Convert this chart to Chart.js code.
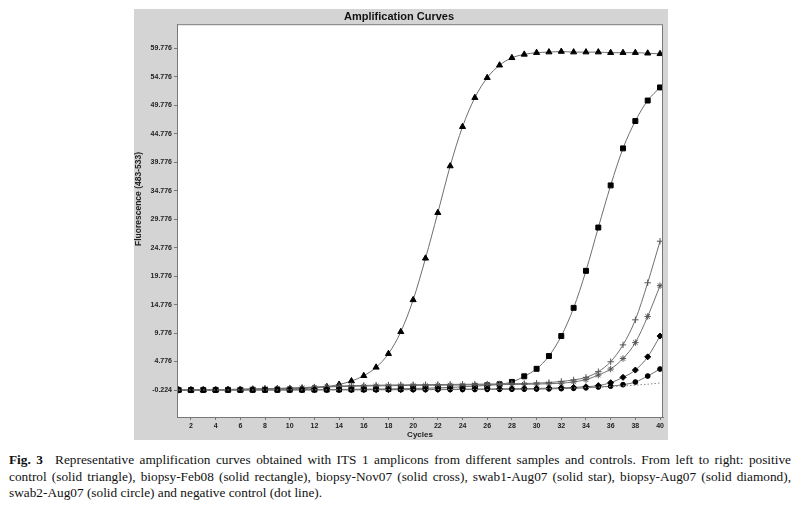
<!DOCTYPE html>
<html>
<head>
<meta charset="utf-8">
<script src="https://cdn.jsdelivr.net/npm/chart.js@4"></script>
<style>
  html, body { margin: 0; padding: 0; background: #ffffff; }
  #page { position: relative; width: 800px; height: 505px; overflow: hidden; background: #fff; }
  #panel { position: absolute; left: 134px; top: 9px; width: 534px; height: 431px; background: #d4d4d4; }
  #caption { position: absolute; left: 9px; top: 452px; width: 782px; font-family: "Liberation Serif", "DejaVu Serif", serif;
             font-size: 13.3px; line-height: 16.5px; color: #111; }
  #caption .j { text-align: justify; text-align-last: justify; white-space: nowrap; }
  #caption .l { text-align: left; white-space: nowrap; }
  #caption b { font-weight: bold; }
</style>
</head>
<body>
<div id="page">
  <div id="panel"><canvas id="c" width="534" height="431"></canvas></div>
  <div id="caption">
    <div class="j"><b>Fig. 3</b>&ensp; Representative amplification curves obtained with ITS 1 amplicons from different samples and controls. From left to right: positive</div>
    <div class="j">control (solid triangle), biopsy-Feb08 (solid rectangle), biopsy-Nov07 (solid cross), swab1-Aug07 (solid star), biopsy-Aug07 (solid diamond),</div>
    <div class="l">swab2-Aug07 (solid circle) and negative control (dot line).</div>
  </div>
</div>
<script>
// ---- data ----
const cycles = [1,2,3,4,5,6,7,8,9,10,11,12,13,14,15,16,17,18,19,20,21,22,23,24,25,26,27,28,29,30,31,32,33,34,35,36,37,38,39,40];

const positiveControl = [-0.22,-0.21,-0.19,-0.17,-0.15,-0.13,-0.11,-0.08,-0.05,-0.02,0.03,0.12,0.36,0.75,1.36,2.28,3.76,6.15,10.0,15.6,22.9,30.9,39.1,46.0,51.1,54.6,56.8,58.1,58.7,59.0,59.1,59.2,59.1,59.1,59.1,59.0,59.0,59.0,58.9,58.8];
const biopsyFeb08 = [-0.22,-0.22,-0.21,-0.21,-0.2,-0.2,-0.19,-0.19,-0.18,-0.17,-0.16,-0.15,-0.14,-0.12,-0.1,-0.08,-0.06,-0.03,0.0,0.05,0.1,0.16,0.24,0.33,0.45,0.6,0.78,1.2,2.18,3.5,5.74,9.25,14.2,20.7,28.3,35.7,42.2,47.0,50.6,52.9];
const biopsyNov07 = [-0.22,-0.2,-0.18,-0.15,-0.12,-0.08,-0.04,0.0,0.05,0.12,0.2,0.3,0.4,0.48,0.54,0.58,0.62,0.65,0.68,0.7,0.72,0.74,0.76,0.78,0.8,0.82,0.85,0.88,0.92,0.98,1.08,1.28,1.55,2.0,3.0,4.74,7.7,12.1,18.6,25.9];
const swab1Aug07 = [-0.22,-0.21,-0.19,-0.17,-0.14,-0.1,-0.06,-0.02,0.03,0.09,0.16,0.24,0.32,0.38,0.43,0.47,0.5,0.53,0.56,0.58,0.6,0.62,0.64,0.66,0.68,0.7,0.72,0.75,0.78,0.82,0.88,0.98,1.2,1.6,2.4,3.46,5.3,8.1,12.7,18.1];
const biopsyAug07 = [-0.22,-0.22,-0.21,-0.21,-0.2,-0.2,-0.19,-0.19,-0.18,-0.18,-0.17,-0.17,-0.16,-0.15,-0.15,-0.14,-0.13,-0.12,-0.12,-0.11,-0.1,-0.09,-0.08,-0.07,-0.06,-0.05,-0.03,-0.01,0.02,0.06,0.1,0.16,0.24,0.35,0.55,1.06,2.0,3.28,5.6,9.25];
const swab2Aug07 = [-0.22,-0.22,-0.22,-0.21,-0.21,-0.21,-0.2,-0.2,-0.2,-0.19,-0.19,-0.19,-0.18,-0.18,-0.18,-0.17,-0.17,-0.16,-0.16,-0.15,-0.15,-0.14,-0.14,-0.13,-0.12,-0.11,-0.1,-0.09,-0.07,-0.05,-0.02,0.02,0.08,0.16,0.3,0.45,0.71,1.18,2.23,3.46];
const negativeControl = [-0.22,-0.22,-0.22,-0.22,-0.21,-0.21,-0.21,-0.21,-0.2,-0.2,-0.2,-0.2,-0.19,-0.19,-0.19,-0.18,-0.18,-0.18,-0.17,-0.17,-0.16,-0.16,-0.15,-0.14,-0.13,-0.12,-0.1,-0.08,-0.05,-0.02,0.02,0.07,0.13,0.2,0.28,0.38,0.5,0.63,0.8,1.0];

const yTickValues = [-0.224,4.776,9.776,14.776,19.776,24.776,29.776,34.776,39.776,44.776,49.776,54.776,59.776];
const xTickValues = [2,4,6,8,10,12,14,16,18,20,22,24,26,28,30,32,34,36,38,40];

const seriesNames = ["positive control","biopsy-Feb08","biopsy-Nov07","swab1-Aug07","biopsy-Aug07","swab2-Aug07","negative control"];

// ---- build chart ----
const toPts = arr => arr.map((v, i) => ({ x: cycles[i], y: v }));
const lineGrey = '#6f6f6f';

function ds(label, arr, style, color, radius, extra) {
  return Object.assign({
    label: label,
    data: toPts(arr),
    borderColor: lineGrey,
    borderWidth: 1,
    pointStyle: style,
    pointRadius: radius,
    pointBackgroundColor: color,
    pointBorderColor: color,
    pointBorderWidth: 1,
    tension: 0.4,
    cubicInterpolationMode: 'monotone',
    fill: false
  }, extra || {});
}

const plotBg = {
  id: 'plotBg',
  beforeDraw(chart) {
    const a = chart.chartArea, ctx = chart.ctx;
    ctx.save();
    ctx.fillStyle = '#ffffff';
    ctx.fillRect(a.left, a.top, a.right - a.left, a.bottom - a.top);
    ctx.restore();
  },
  afterDraw(chart) {
    const a = chart.chartArea, ctx = chart.ctx;
    ctx.save();
    ctx.strokeStyle = '#777777';
    ctx.lineWidth = 1;
    ctx.strokeRect(a.left + 0.5, a.top + 0.5, a.right - a.left - 1, a.bottom - a.top);
    // y axis title
    ctx.translate(5, chart.chartArea.top + (chart.chartArea.bottom - chart.chartArea.top) * 0.445);
    ctx.rotate(-Math.PI / 2);
    ctx.fillStyle = '#222';
    ctx.font = 'bold 8.5px "Liberation Sans", Arial, sans-serif';
    ctx.textAlign = 'center';
    ctx.textBaseline = 'middle';
    ctx.fillText('Fluorescence (483-533)', 0, 0);
    ctx.restore();
  }
};

new Chart(document.getElementById('c'), {
  type: 'line',
  data: {
    datasets: [
      ds(seriesNames[6], negativeControl, 'circle', '#888', 0, { borderColor: '#8a8a8a', borderDash: [1.5, 2] }),
      ds(seriesNames[5], swab2Aug07, 'circle', '#000', 2.4),
      ds(seriesNames[4], biopsyAug07, 'rectRot', '#000', 3),
      ds(seriesNames[3], swab1Aug07, 'star', '#555', 3.2),
      ds(seriesNames[2], biopsyNov07, 'cross', '#555', 3.2),
      ds(seriesNames[1], biopsyFeb08, 'rect', '#000', 3.5),
      ds(seriesNames[0], positiveControl, 'triangle', '#000', 3.5)
    ]
  },
  options: {
    responsive: false,
    animation: false,
    layout: { padding: { left: 0, right: 4, top: 0, bottom: 0 } },
    plugins: {
      legend: { display: false },
      tooltip: { enabled: false },
      title: {
        display: true,
        text: 'Amplification Curves',
        color: '#111',
        font: { family: '"Liberation Sans", Arial, sans-serif', size: 11, weight: 'bold' },
        padding: { top: 1, bottom: 1 }
      }
    },
    scales: {
      x: {
        type: 'linear',
        min: 0.87,
        max: 40.24,
        afterBuildTicks: s => { s.ticks = xTickValues.map(v => ({ value: v })); },
        afterFit: s => { s.height = 23; },
        grid: { display: true, drawOnChartArea: false, drawTicks: true, tickLength: 3, color: '#777' },
        border: { display: true, color: '#777' },
        ticks: {
          autoSkip: false, maxRotation: 0, padding: 2,
          color: '#222',
          font: { family: '"Liberation Sans", Arial, sans-serif', size: 7, weight: 'bold' },
          callback: v => String(v)
        },
        title: {
          display: true, text: 'Cycles', color: '#222',
          padding: { top: 0, bottom: 0 },
          font: { family: '"Liberation Sans", Arial, sans-serif', size: 8, weight: 'bold' }
        }
      },
      y: {
        type: 'linear',
        min: -4.96,
        max: 64.0,
        afterBuildTicks: s => { s.ticks = yTickValues.map(v => ({ value: v })); },
        afterFit: s => { s.width = 43; },
        grid: { display: true, drawOnChartArea: false, drawTicks: true, tickLength: 3, color: '#777' },
        border: { display: true, color: '#777' },
        ticks: {
          padding: 2,
          color: '#222',
          font: { family: '"Liberation Sans", Arial, sans-serif', size: 7, weight: 'bold' },
          callback: v => Number(v).toFixed(3)
        }
      }
    }
  },
  plugins: [plotBg]
});
</script>
</body>
</html>
